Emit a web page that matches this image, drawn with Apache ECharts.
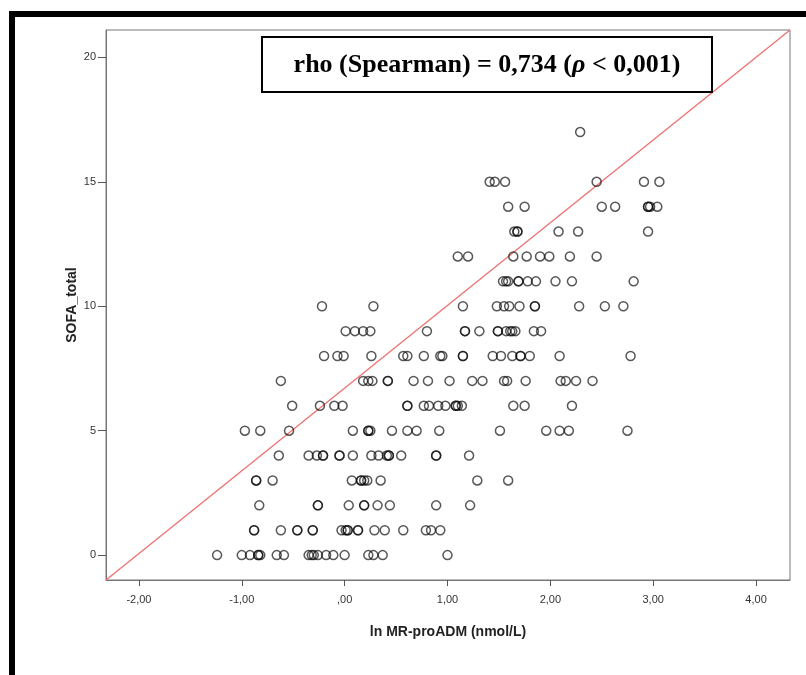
<!DOCTYPE html>
<html><head><meta charset="utf-8">
<script src="https://cdn.jsdelivr.net/npm/echarts@6/dist/echarts.min.js"></script>
<style>html,body{margin:0;padding:0;background:#fff}#c{width:806px;height:675px}</style>
</head><body><div id="c"></div>
<script>
// ln MR-proADM values for each SOFA_total score
const sofa0 = [-1.24,-1.00,-0.92,-0.84,-0.84,-0.82,-0.66,-0.59,-0.35,-0.32,-0.30,-0.26,-0.18,-0.11,0.00,0.23,0.28,0.37,1.00];
const sofa1 = [-0.88,-0.88,-0.62,-0.46,-0.46,-0.31,-0.31,-0.03,0.01,0.03,0.03,0.13,0.13,0.29,0.39,0.57,0.79,0.84,0.93];
const sofa2 = [-0.83,-0.26,-0.26,0.04,0.19,0.19,0.32,0.44,0.89,1.22];
const sofa3 = [-0.86,-0.86,-0.70,0.07,0.16,0.16,0.19,0.22,0.35,1.29,1.59];
const sofa4 = [-0.64,-0.35,-0.27,-0.21,-0.21,-0.05,-0.05,0.08,0.26,0.33,0.41,0.43,0.43,0.55,0.89,0.89,1.21];
const sofa5 = [-0.97,-0.82,-0.54,0.08,0.23,0.23,0.25,0.46,0.61,0.70,0.92,1.51,1.96,2.09,2.18,2.75];
const sofa6 = [-0.51,-0.24,-0.10,-0.02,0.61,0.61,0.77,0.82,0.91,0.98,1.08,1.08,1.10,1.14,1.64,1.75,2.21];
const sofa7 = [-0.62,0.18,0.23,0.27,0.42,0.42,0.67,0.81,1.02,1.24,1.34,1.55,1.58,1.76,2.10,2.15,2.25,2.41];
const sofa8 = [-0.20,-0.07,-0.01,0.26,0.57,0.61,0.77,0.93,0.95,1.15,1.15,1.44,1.52,1.63,1.71,1.71,1.80,2.09,2.78];
const sofa9 = [0.01,0.10,0.18,0.25,0.80,1.17,1.17,1.31,1.49,1.49,1.57,1.61,1.63,1.66,1.84,1.91];
const sofa10 = [-0.22,0.28,1.15,1.48,1.55,1.60,1.70,1.85,1.85,2.28,2.53,2.71];
const sofa11 = [1.54,1.57,1.59,1.69,1.69,1.78,1.86,2.05,2.21,2.81];
const sofa12 = [1.10,1.20,1.64,1.77,1.90,1.99,2.19,2.45];
const sofa13 = [1.65,1.68,1.68,2.08,2.27,2.95];
const sofa14 = [1.59,1.75,2.50,2.63,2.95,2.95,2.97,3.04];
const sofa15 = [1.41,1.46,1.56,2.45,2.91,3.06];
const sofa17 = [2.29];

const sofaLevels = [0,1,2,3,4,5,6,7,8,9,10,11,12,13,14,15,17];
const sofaGroups = [sofa0,sofa1,sofa2,sofa3,sofa4,sofa5,sofa6,sofa7,sofa8,sofa9,sofa10,sofa11,sofa12,sofa13,sofa14,sofa15,sofa17];

const xTicks = [-2,-1,0,1,2,3,4];
const yTicks = [0,5,10,15,20];
const xRange = [-2.32, 4.33];
const yRange = [-1, 21.1];

const points = [];
sofaGroups.forEach((g, i) => g.forEach(x => points.push([x, sofaLevels[i]])));

function fmtX(v){
  const a = Math.abs(v);
  return (v < 0 ? '-' : '') + (a === 0 ? '' : String(Math.round(a))) + ',00';
}

const chart = echarts.init(document.getElementById('c'), null, {renderer:'canvas'});
const labelFont = {fontFamily:'Liberation Sans, Arial, sans-serif', fontSize:11, color:'#333'};
chart.setOption({
  animation:false,
  backgroundColor:'#fff',
  grid:{left:106, top:30, right:16, bottom:95, show:true, borderColor:'#777', borderWidth:1, backgroundColor:'transparent'},
  xAxis:{
    type:'value', min:xRange[0], max:xRange[1],
    name:'ln MR-proADM (nmol/L)', nameLocation:'middle', nameGap:45,
    nameTextStyle:{fontFamily:'Liberation Sans, Arial, sans-serif', fontSize:14, fontWeight:'bold', color:'#222'},
    axisLine:{show:true, onZero:false, lineStyle:{color:'#777', width:1}},
    axisTick:{show:true, length:6, customValues:xTicks, lineStyle:{color:'#555'}},
    axisLabel:Object.assign({customValues:xTicks, margin:14, formatter:fmtX}, labelFont),
    splitLine:{show:false}
  },
  yAxis:{
    type:'value', min:yRange[0], max:yRange[1],
    name:'SOFA_total', nameLocation:'middle', nameGap:27, nameRotate:90, nameMoveOverlap:false,
    nameTextStyle:{fontFamily:'Liberation Sans, Arial, sans-serif', fontSize:14, fontWeight:'bold', color:'#222'},
    axisLine:{show:true, onZero:false, lineStyle:{color:'#777', width:1}},
    axisTick:{show:true, length:8, customValues:yTicks, lineStyle:{color:'#555'}},
    axisLabel:Object.assign({customValues:yTicks, margin:10, formatter:v=>String(Math.round(v))}, labelFont),
    splitLine:{show:false}
  },
  series:[
    {
      type:'line', data:[[xRange[0],yRange[0]],[xRange[1],yRange[1]]],
      symbol:'none', lineStyle:{color:'#f07070', width:1.3}, z:1, silent:true
    },
    {
      type:'scatter', data:points, symbol:'circle', symbolSize:9,
      itemStyle:{color:'rgba(0,0,0,0)', borderColor:'rgba(10,10,10,0.85)', borderWidth:1.5},
      z:2
    }
  ],
  graphic:[
    {type:'rect', shape:{x:9, y:11, width:797, height:6}, style:{fill:'#000'}},
    {type:'rect', shape:{x:9, y:11, width:6, height:664}, style:{fill:'#000'}},
    {type:'rect', shape:{x:262, y:37, width:450, height:55}, style:{fill:'#fff', stroke:'#000', lineWidth:2}, z:10},
    {type:'text', x:487, y:65, z:11, style:{
      text:'{n|rho (Spearman) = 0,734 (}{i|ρ}{n| < 0,001)}',
      align:'center', verticalAlign:'middle',
      rich:{
        n:{fontFamily:'Liberation Serif, Times New Roman, serif', fontSize:26, fontWeight:'bold', fill:'#000'},
        i:{fontFamily:'Liberation Serif, Times New Roman, serif', fontSize:26, fontWeight:'bold', fontStyle:'italic', fill:'#000'}
      }
    }}
  ]
});
</script>
</body></html>
